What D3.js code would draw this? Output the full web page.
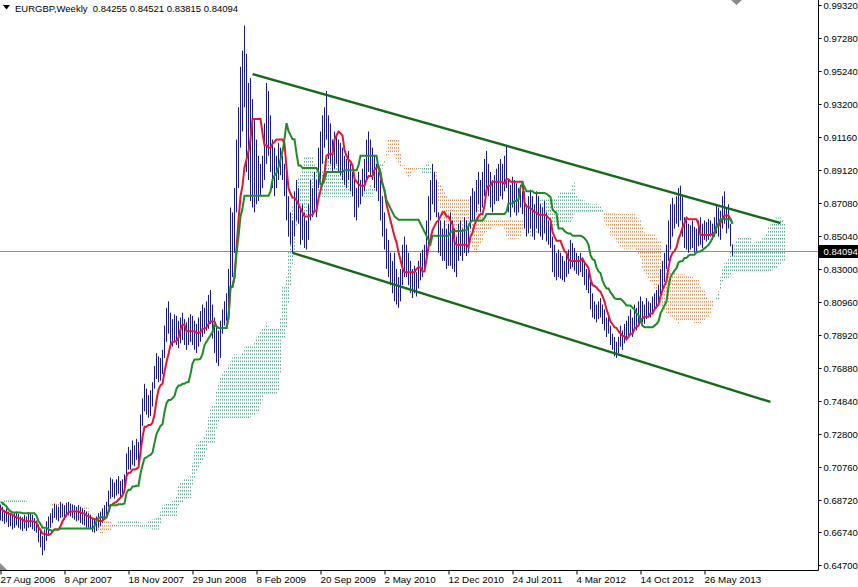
<!DOCTYPE html>
<html>
<head>
<meta charset="utf-8">
<script src="https://cdn.jsdelivr.net/npm/d3@7"></script>
<style>
  body { margin: 0; background: #fff; }
  svg { display: block; }
  text { font-family: "Liberation Sans", Arial, sans-serif; }
</style>
</head>
<body>
<div id="chart"></div>
<script>
// ---- data ----
var symbolTitle = "EURGBP,Weekly";
var lastBar = [0.84255, 0.84521, 0.83815, 0.84094];   // O H L C of the current week
var bidPrice = 0.84094;

var dateLabels = ["27 Aug 2006", "8 Apr 2007", "18 Nov 2007", "29 Jun 2008", "8 Feb 2009",
  "20 Sep 2009", "2 May 2010", "12 Dec 2010", "24 Jul 2011", "4 Mar 2012", "14 Oct 2012", "26 May 2013"];
var barsPerLabel = 32;

var priceTicks = [0.99320, 0.97280, 0.95240, 0.93200, 0.91160, 0.89120, 0.87080, 0.85040, 0.83000,
  0.80960, 0.78920, 0.76880, 0.74840, 0.72800, 0.70760, 0.68720, 0.66740, 0.64700];

// weeks before the first visible bar (only feed the indicator)
var preHigh = [0.6880,0.6900,0.6870,0.6840,0.6820,0.6810,0.6830,0.6850,0.6840,0.6810,
  0.6800,0.6820,0.6830,0.6860,0.6880,0.6890,0.6870,0.6860,0.6880,0.6900,
  0.6920,0.6900,0.6880,0.6870,0.6890,0.6910,0.6930,0.6950,0.6970,0.6960,
  0.6940,0.6920,0.6900,0.6880,0.6870,0.6890,0.6880,0.6860,0.6870,0.6890,
  0.6900,0.6880,0.6870,0.6890,0.6900,0.6880,0.6870,0.6860,0.6850,0.6860,
  0.6870,0.6850];
var preLow = [0.6790,0.6810,0.6780,0.6760,0.6740,0.6750,0.6760,0.6770,0.6780,0.6750,
  0.6740,0.6760,0.6770,0.6790,0.6800,0.6820,0.6800,0.6790,0.6810,0.6830,
  0.6840,0.6830,0.6810,0.6800,0.6820,0.6840,0.6850,0.6870,0.6880,0.6870,
  0.6860,0.6840,0.6820,0.6800,0.6790,0.6810,0.6800,0.6780,0.6790,0.6810,
  0.6820,0.6800,0.6790,0.6800,0.6820,0.6810,0.6790,0.6780,0.6770,0.6780,
  0.6790,0.6770];

// weekly highs / lows from 27 Aug 2006
var weekHigh = [
  0.6840,0.6830,0.6810,0.6820,0.6800,0.6790,0.6775,0.6790,0.6800,0.6785,
  0.6770,0.6765,0.6780,0.6770,0.6795,0.6790,0.6780,0.6760,0.6745,0.6720,
  0.6690,0.6650,0.6690,0.6740,0.6770,0.6790,0.6820,0.6850,0.6840,0.6830,
  0.6860,0.6850,0.6840,0.6855,0.6860,0.6850,0.6845,0.6840,0.6830,0.6840,
  0.6830,0.6820,0.6810,0.6800,0.6790,0.6780,0.6760,0.6750,0.6770,0.6790,
  0.6800,0.6820,0.6840,0.6860,0.6930,0.7010,0.7000,0.6980,0.7000,0.7020,
  0.6990,0.7000,0.7030,0.7160,0.7200,0.7180,0.7240,0.7210,0.7250,0.7230,
  0.7400,0.7500,0.7590,0.7560,0.7520,0.7550,0.7600,0.7700,0.7780,0.7760,
  0.7750,0.7800,0.7950,0.8060,0.8100,0.8030,0.7990,0.8020,0.8010,0.7980,
  0.8000,0.8030,0.7990,0.7970,0.8000,0.8020,0.8010,0.7980,0.7960,0.8000,
  0.8040,0.8080,0.8060,0.8100,0.8140,0.8170,0.8080,0.8000,0.7950,0.7920,
  0.7980,0.8050,0.8100,0.8150,0.8300,0.8680,0.8650,0.8800,0.9100,0.9300,
  0.9550,0.9650,0.9805,0.9630,0.9450,0.9480,0.9350,0.9220,0.9100,0.9000,
  0.8950,0.9000,0.9200,0.9450,0.9400,0.9250,0.9100,0.9050,0.9000,0.9080,
  0.9050,0.9000,0.8950,0.8900,0.8750,0.8650,0.8600,0.8780,0.8850,0.8800,
  0.8680,0.8700,0.8650,0.8600,0.8700,0.8850,0.8800,0.8900,0.8850,0.9050,
  0.9150,0.9250,0.9300,0.9400,0.9250,0.9200,0.9100,0.9150,0.9130,0.9100,
  0.9080,0.9050,0.9000,0.8980,0.9030,0.8950,0.8900,0.8850,0.8800,0.8900,
  0.8850,0.8920,0.8980,0.9100,0.9150,0.9100,0.9050,0.9000,0.8950,0.8900,
  0.8850,0.8750,0.8650,0.8550,0.8480,0.8400,0.8350,0.8400,0.8300,0.8250,
  0.8300,0.8450,0.8500,0.8450,0.8400,0.8350,0.8300,0.8320,0.8280,0.8350,
  0.8400,0.8420,0.8450,0.8600,0.8750,0.8850,0.8950,0.8900,0.8850,0.8650,
  0.8600,0.8550,0.8600,0.8550,0.8580,0.8650,0.8600,0.8550,0.8500,0.8580,
  0.8600,0.8550,0.8620,0.8600,0.8580,0.8750,0.8800,0.8780,0.8850,0.8900,
  0.8850,0.8900,0.8980,0.9030,0.8950,0.8900,0.8850,0.8880,0.8920,0.8950,
  0.8980,0.8950,0.9000,0.9060,0.8850,0.8820,0.8870,0.8850,0.8830,0.8800,
  0.8820,0.8780,0.8780,0.8700,0.8750,0.8790,0.8750,0.8700,0.8780,0.8750,
  0.8700,0.8680,0.8720,0.8650,0.8600,0.8580,0.8500,0.8450,0.8400,0.8420,
  0.8400,0.8380,0.8350,0.8400,0.8420,0.8480,0.8460,0.8430,0.8400,0.8380,
  0.8400,0.8370,0.8350,0.8300,0.8280,0.8220,0.8150,0.8100,0.8080,0.8100,
  0.8120,0.8080,0.8050,0.8000,0.8020,0.7950,0.7900,0.7880,0.7850,0.7880,
  0.7950,0.7920,0.7960,0.7980,0.8010,0.8050,0.8000,0.8080,0.8060,0.8100,
  0.8130,0.8100,0.8080,0.8120,0.8100,0.8090,0.8130,0.8150,0.8170,0.8200,
  0.8300,0.8350,0.8400,0.8450,0.8600,0.8700,0.8740,0.8700,0.8750,0.8800,
  0.8815,0.8750,0.8620,0.8600,0.8580,0.8570,0.8600,0.8560,0.8550,0.8600,
  0.8620,0.8580,0.8600,0.8590,0.8610,0.8600,0.8580,0.8620,0.8700,0.8680,
  0.8660,0.8750,0.8780,0.8680,0.8700,0.8580,0.84521];
var weekLow = [
  0.6745,0.6740,0.6725,0.6735,0.6705,0.6710,0.6690,0.6700,0.6715,0.6700,
  0.6690,0.6680,0.6695,0.6680,0.6700,0.6705,0.6690,0.6680,0.6670,0.6610,
  0.6580,0.6530,0.6560,0.6620,0.6660,0.6700,0.6730,0.6760,0.6750,0.6740,
  0.6760,0.6765,0.6750,0.6770,0.6780,0.6770,0.6760,0.6750,0.6740,0.6745,
  0.6730,0.6720,0.6715,0.6700,0.6700,0.6690,0.6675,0.6670,0.6680,0.6700,
  0.6710,0.6730,0.6750,0.6780,0.6830,0.6880,0.6890,0.6880,0.6900,0.6910,
  0.6880,0.6900,0.6930,0.7020,0.7060,0.7060,0.7090,0.7080,0.7120,0.7100,
  0.7200,0.7330,0.7420,0.7400,0.7380,0.7390,0.7450,0.7560,0.7620,0.7600,
  0.7610,0.7650,0.7750,0.7850,0.7900,0.7830,0.7820,0.7850,0.7830,0.7810,
  0.7840,0.7860,0.7830,0.7800,0.7830,0.7850,0.7830,0.7800,0.7780,0.7820,
  0.7850,0.7880,0.7900,0.7920,0.7930,0.7960,0.7870,0.7780,0.7720,0.7700,
  0.7750,0.7900,0.7950,0.7980,0.8050,0.8150,0.8250,0.8400,0.8650,0.8800,
  0.9050,0.9150,0.9300,0.8900,0.8850,0.8720,0.8680,0.8650,0.8700,0.8720,
  0.8750,0.8800,0.8850,0.8950,0.9000,0.8900,0.8800,0.8750,0.8800,0.8850,
  0.8880,0.8850,0.8750,0.8600,0.8500,0.8450,0.8400,0.8500,0.8600,0.8580,
  0.8450,0.8480,0.8430,0.8420,0.8480,0.8600,0.8620,0.8650,0.8620,0.8800,
  0.8850,0.8950,0.9050,0.9100,0.8980,0.8950,0.8900,0.8920,0.8950,0.8900,
  0.8880,0.8850,0.8820,0.8800,0.8850,0.8780,0.8750,0.8620,0.8600,0.8680,
  0.8700,0.8750,0.8780,0.8850,0.8900,0.8880,0.8850,0.8800,0.8780,0.8720,
  0.8600,0.8500,0.8420,0.8300,0.8250,0.8200,0.8150,0.8100,0.8080,0.8060,
  0.8100,0.8200,0.8250,0.8250,0.8200,0.8150,0.8120,0.8150,0.8130,0.8180,
  0.8230,0.8250,0.8300,0.8350,0.8450,0.8600,0.8700,0.8650,0.8620,0.8400,
  0.8380,0.8350,0.8350,0.8300,0.8320,0.8320,0.8300,0.8280,0.8250,0.8350,
  0.8380,0.8350,0.8400,0.8380,0.8400,0.8550,0.8600,0.8600,0.8650,0.8700,
  0.8650,0.8680,0.8750,0.8800,0.8750,0.8680,0.8650,0.8700,0.8720,0.8720,
  0.8750,0.8730,0.8780,0.8800,0.8650,0.8620,0.8680,0.8650,0.8630,0.8650,
  0.8680,0.8640,0.8550,0.8500,0.8520,0.8550,0.8500,0.8480,0.8550,0.8520,
  0.8500,0.8480,0.8520,0.8470,0.8450,0.8430,0.8280,0.8250,0.8230,0.8250,
  0.8240,0.8230,0.8220,0.8250,0.8270,0.8300,0.8310,0.8290,0.8270,0.8260,
  0.8280,0.8250,0.8200,0.8170,0.8150,0.8050,0.8000,0.7990,0.7970,0.7990,
  0.8000,0.7960,0.7920,0.7880,0.7900,0.7830,0.7800,0.7760,0.7750,0.7780,
  0.7820,0.7800,0.7840,0.7860,0.7880,0.7900,0.7880,0.7930,0.7920,0.7950,
  0.7980,0.7970,0.7960,0.7990,0.8000,0.8000,0.8020,0.8040,0.8060,0.8080,
  0.8120,0.8170,0.8220,0.8300,0.8350,0.8420,0.8500,0.8550,0.8580,0.8560,
  0.8600,0.8500,0.8430,0.8420,0.8400,0.8420,0.8430,0.8400,0.8410,0.8440,
  0.8450,0.8430,0.8480,0.8470,0.8480,0.8500,0.8480,0.8500,0.8520,0.8500,
  0.8480,0.8550,0.8580,0.8520,0.8550,0.8440,0.83815];

// hand drawn trend lines: [bar index, price]
var upperChannel = [[126, 0.9505], [390, 0.8584]];
var lowerChannel = [[146, 0.8400], [385, 0.7478]];

// ichimoku periods
var tenkanLen = 9, kijunLen = 26, senkouLen = 52, cloudShift = 26;

// ---- layout ----
var width = 858, height = 587;
var plotRight = 818, plotBottom = 570;

var svg = d3.select("#chart").append("svg")
  .attr("width", width)
  .attr("height", height);

var x = d3.scaleLinear().domain([0, 409]).range([0.5, 818.5]);
var y = d3.scaleLinear().domain([0.64700, 0.99320]).range([565, 5]);

svg.append("defs").append("clipPath").attr("id", "plot")
  .append("rect").attr("x", 0).attr("y", 0).attr("width", plotRight).attr("height", plotBottom);

var plot = svg.append("g").attr("clip-path", "url(#plot)");

// ---- indicator ----
var highs = preHigh.concat(weekHigh), lows = preLow.concat(weekLow);
var offset = preHigh.length;
var n = weekHigh.length;

function midRange(k, len) {
  var s = Math.max(0, k - len + 1);
  return (d3.max(highs.slice(s, k + 1)) + d3.min(lows.slice(s, k + 1))) / 2;
}

var tenkan = d3.range(n).map(function(i){ return midRange(i + offset, tenkanLen); });
var kijun  = d3.range(n).map(function(i){ return midRange(i + offset, kijunLen); });

var cloud = d3.range(n + cloudShift).map(function(i){
  var k = i - cloudShift + offset;
  var a = (midRange(k, tenkanLen) + midRange(k, kijunLen)) / 2;
  var b = midRange(k, senkouLen);
  return { i: i, a: a, b: b };
});

// cloud: dotted columns, one per bar
plot.append("g").selectAll("line")
  .data(cloud)
  .enter()
  .append("line")
    .attr("x1", function(d){ return x(d.i); })
    .attr("x2", function(d){ return x(d.i); })
    .attr("y1", function(d){ return Math.min(y(d.a), y(d.b)); })
    .attr("y2", function(d){ return Math.max(y(d.a), y(d.b)) + 1; })
    .attr("stroke", function(d){ return d.a >= d.b ? "#6aae96" : "#e0945e"; })
    .attr("stroke-width", 1)
    .attr("stroke-dasharray", "1.6,1.9")
    .attr("stroke-dashoffset", function(d){ return Math.min(y(d.a), y(d.b)) % 3.5; });

// bid line
plot.append("line")
  .attr("x1", 0).attr("x2", plotRight)
  .attr("y1", Math.round(y(bidPrice)) + 0.5).attr("y2", Math.round(y(bidPrice)) + 0.5)
  .attr("stroke", "#8c8c8c").attr("stroke-width", 1);

// weekly bars
plot.append("g").selectAll("line")
  .data(d3.range(n))
  .enter()
  .append("line")
    .attr("x1", function(i){ return x(i); })
    .attr("x2", function(i){ return x(i); })
    .attr("y1", function(i){ return y(weekHigh[i]); })
    .attr("y2", function(i){ return y(weekLow[i]); })
    .attr("stroke", "#18188f")
    .attr("stroke-width", 1);

var line = d3.line()
  .x(function(d, i){ return x(i); })
  .y(function(d){ return y(d); });

plot.append("path").datum(tenkan)
  .attr("d", line).attr("fill", "none")
  .attr("stroke", "#e01830").attr("stroke-width", 2);

plot.append("path").datum(kijun)
  .attr("d", line).attr("fill", "none")
  .attr("stroke", "#1f8a26").attr("stroke-width", 2);

// trend lines
[upperChannel, lowerChannel].forEach(function(c){
  plot.append("line")
    .attr("x1", x(c[0][0])).attr("y1", y(c[0][1]))
    .attr("x2", x(c[1][0])).attr("y2", y(c[1][1]))
    .attr("stroke", "#17691a").attr("stroke-width", 2.4);
});

// ---- axes ----
svg.append("line").attr("x1", 0).attr("x2", plotRight + 0.5)
  .attr("y1", plotBottom + 0.5).attr("y2", plotBottom + 0.5).attr("stroke", "#000");
svg.append("line").attr("x1", plotRight + 0.5).attr("x2", plotRight + 0.5)
  .attr("y1", 0).attr("y2", plotBottom + 0.5).attr("stroke", "#000");

var yAxis = d3.axisRight(y)
  .tickValues(priceTicks)
  .tickSize(3)
  .tickPadding(2)
  .tickFormat(d3.format(".5f"));

var gy = svg.append("g").attr("transform", "translate(" + (plotRight + 0.5) + ",0)").call(yAxis);
gy.select(".domain").remove();
gy.selectAll("text").attr("font-family", "'Liberation Sans', Arial, sans-serif")
  .attr("font-size", 9.5).attr("fill", "#000");

var xAxis = d3.axisBottom(x)
  .tickValues(dateLabels.map(function(d, k){ return k * barsPerLabel; }))
  .tickFormat(function(d, k){ return dateLabels[k]; })
  .tickSize(4)
  .tickPadding(2);

var gx = svg.append("g").attr("transform", "translate(0," + (plotBottom + 0.5) + ")").call(xAxis);
gx.select(".domain").remove();
gx.selectAll("text").attr("text-anchor", "start").attr("dx", -0.5)
  .attr("font-family", "'Liberation Sans', Arial, sans-serif")
  .attr("font-size", 9.8).attr("fill", "#000");

// current price tag
var by = y(bidPrice);
svg.append("rect").attr("x", plotRight + 1).attr("y", Math.round(by) - 6)
  .attr("width", width - plotRight - 1).attr("height", 13).attr("fill", "#000");
svg.append("text").attr("x", plotRight + 5.5).attr("y", by).attr("dy", "0.35em")
  .attr("font-size", 9.5).attr("fill", "#fff").text(d3.format(".5f")(bidPrice));

// header
svg.append("path").attr("d", "M3,5 L10,5 L6.5,9.5 Z").attr("fill", "#000");
svg.append("text").attr("x", 15).attr("y", 11.5).attr("font-size", 9.5).attr("fill", "#000")
  .attr("xml:space", "preserve")
  .text(symbolTitle + "  " + lastBar.map(d3.format(".5f")).join(" "));

// small scale markers
svg.append("path").attr("d", "M731,0 L742,0 L736.5,5 Z").attr("fill", "#8a8a8a");
svg.append("path").attr("d", "M0,563 L7,570 L0,570 Z").attr("fill", "#8a8a8a");
</script>
</body>
</html>
